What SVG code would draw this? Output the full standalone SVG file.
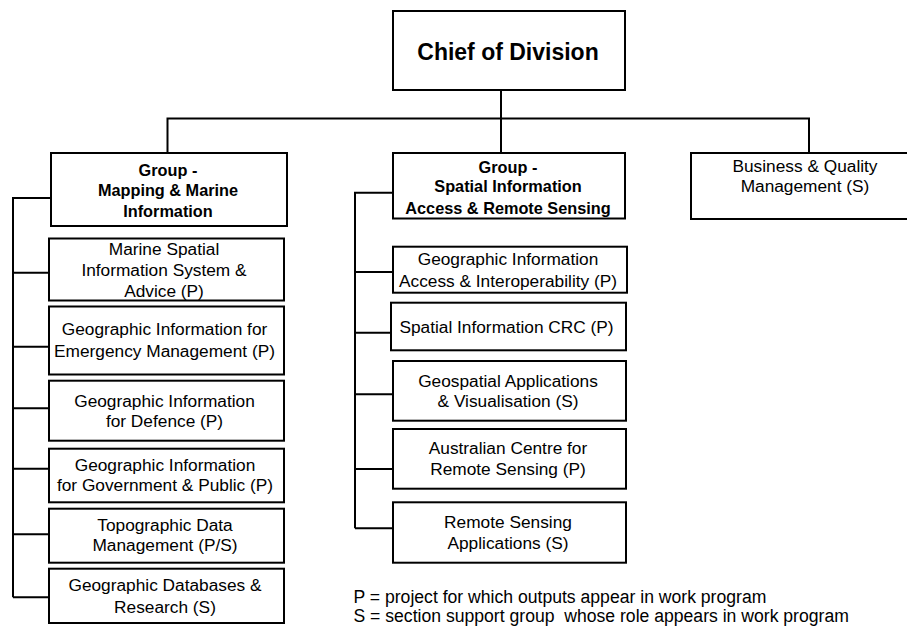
<svg xmlns="http://www.w3.org/2000/svg" width="907" height="627" viewBox="0 0 907 627">
<style>
rect{fill:#fff;stroke:#000;stroke-width:2}
.c path{fill:none;stroke:#000;stroke-width:2}
text{font-family:"Liberation Sans",Arial,sans-serif;fill:#000;text-anchor:middle}
.b{font-weight:bold;font-size:16.3px}
.r{font-size:17.3px}
.t{font-size:23px;font-weight:bold}
.l{font-size:17.6px;text-anchor:start;white-space:pre}
</style>
<rect x="0" y="0" width="907" height="627" style="stroke:none"/>
<g class="c" id="connectors">
<path d="M501 90V118.5M167.5 152.7V118.5H809V152.7M501 118.5V152.7"/>
<path d="M51 198H13V597.3M13 272.7H49M13 346.7H49M13 408.3H49M13 468.7H49M13 534.3H49M13 597.3H49"/>
<path d="M393 192.7H355V528.3M355 272H393M355 332.7H391M355 394.3H393M355 469H393M355 528.3H393"/>
</g>
<g id="chief"><rect x="393" y="11" width="232" height="79"/><text class="t" x="508" y="60">Chief of Division</text></g>
<g id="group1"><rect x="51" y="153" width="236" height="73"/>
<text class="b" x="168" y="176">Group -</text><text class="b" x="168" y="196">Mapping &amp; Marine</text><text class="b" x="168" y="216.5">Information</text></g>
<g id="group2"><rect x="393" y="153" width="232" height="65.5"/>
<text class="b" x="508" y="172.5">Group -</text><text class="b" x="508" y="192">Spatial Information</text><text class="b" x="508" y="213.5">Access &amp; Remote Sensing</text></g>
<g id="business"><rect x="691" y="153" width="222" height="66"/>
<text class="r" x="805" y="172">Business &amp; Quality</text><text class="r" x="805" y="192">Management (S)</text></g>
<g id="marine"><rect x="49" y="238.5" width="235" height="62"/>
<text class="r" x="164" y="255">Marine Spatial</text><text class="r" x="164" y="275.5">Information System &amp;</text><text class="r" x="164" y="297">Advice (P)</text></g>
<g id="emergency"><rect x="49" y="306.5" width="235" height="68"/>
<text class="r" x="164.5" y="335">Geographic Information for</text><text class="r" x="164.5" y="357">Emergency Management (P)</text></g>
<g id="defence"><rect x="49" y="380.7" width="235" height="60"/>
<text class="r" x="164.5" y="407">Geographic Information</text><text class="r" x="164.5" y="427">for Defence (P)</text></g>
<g id="government"><rect x="49" y="448.7" width="235" height="53.6"/>
<text class="r" x="165" y="471.3">Geographic Information</text><text class="r" x="165" y="491">for Government &amp; Public (P)</text></g>
<g id="topographic"><rect x="49" y="508.7" width="235" height="54"/>
<text class="r" x="165" y="531">Topographic Data</text><text class="r" x="165" y="551">Management (P/S)</text></g>
<g id="databases"><rect x="49" y="568.7" width="235" height="54.3"/>
<text class="r" x="165" y="591">Geographic Databases &amp;</text><text class="r" x="165" y="612.7">Research (S)</text></g>
<g id="access"><rect x="393" y="246.7" width="234" height="46"/>
<text class="r" x="508" y="265">Geographic Information</text><text class="r" x="508" y="287">Access &amp; Interoperability (P)</text></g>
<g id="crc"><rect x="391" y="302.7" width="235" height="47.6"/>
<text class="r" x="506.5" y="332.7">Spatial Information CRC (P)</text></g>
<g id="geospatial"><rect x="393" y="361" width="233" height="59.7"/>
<text class="r" x="508" y="387">Geospatial Applications</text><text class="r" x="508" y="407">&amp; Visualisation (S)</text></g>
<g id="acrs"><rect x="393" y="429" width="233" height="59.7"/>
<text class="r" x="508" y="453.7">Australian Centre for</text><text class="r" x="508" y="475.3">Remote Sensing (P)</text></g>
<g id="rsa"><rect x="393" y="502.3" width="233" height="60.4"/>
<text class="r" x="508" y="527.7">Remote Sensing</text><text class="r" x="508" y="549.3">Applications (S)</text></g>
<g id="legend">
<text class="l" x="353.5" y="602.5">P = project for which outputs appear in work program</text>
<text class="l" x="353.5" y="622">S = section support group  whose role appears in work program</text>
</g>
</svg>
